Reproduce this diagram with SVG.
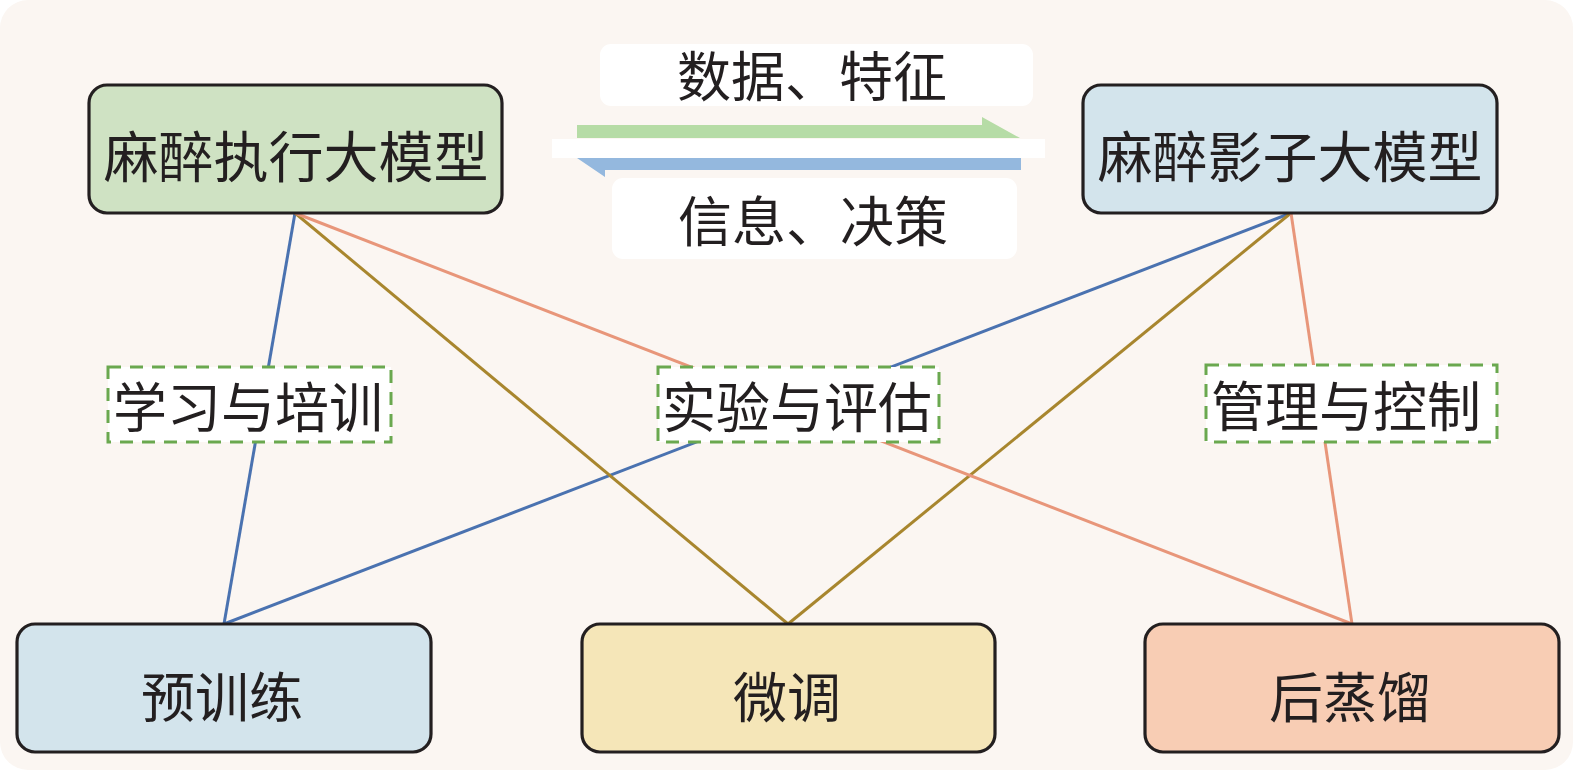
<svg xmlns="http://www.w3.org/2000/svg" width="1575" height="773" viewBox="0 0 1575 773">
<style>
.node rect{stroke:#231f20;stroke-width:3.2}
.t{font-family:"Noto Sans CJK SC","Noto Sans",sans-serif;fill:#231f20;text-anchor:middle;dominant-baseline:central}
.lbl rect{fill:#ffffff;stroke:#6aa84f;stroke-width:3;stroke-dasharray:13 9}
.conn line{stroke-width:3;fill:none}
.blue{stroke:#4a72b0}.gold{stroke:#a8862e}.orange{stroke:#e8967a}
</style>
<rect x="0" y="0" width="1575" height="773" fill="#ffffff"/>
<rect x="0" y="0" width="1573" height="770" rx="28" fill="#fbf6f2"/>
<g id="connectors" class="conn">
<line class="blue" x1="295" y1="213" x2="224" y2="624"/>
<line class="blue" x1="1291" y1="213" x2="224" y2="624"/>
<line class="gold" x1="295" y1="213" x2="788" y2="624"/>
<line class="gold" x1="1291" y1="213" x2="788" y2="624"/>
<line class="orange" x1="295" y1="213" x2="1352" y2="624"/>
<line class="orange" x1="1291" y1="213" x2="1352" y2="624"/>
</g>
<g id="flow">
<rect x="600" y="44" width="433" height="62" rx="11" fill="#ffffff"/>
<text class="t" x="812" y="73" font-size="54">数据、特征</text>
<polygon points="577,125 982,125 982,117 1020,138 577,138" fill="#b6dca6"/>
<rect x="552" y="139" width="493" height="19" fill="#ffffff"/>
<polygon points="577,158 1021,158 1021,170 605,170 605,177" fill="#94b8de"/>
<rect x="612" y="178" width="405" height="81" rx="11" fill="#ffffff"/>
<text class="t" x="813" y="218" font-size="54">信息、决策</text>
</g>
<g id="n-exec" class="node"><rect x="89" y="85" width="413" height="128" rx="18" fill="#cfe2c3"/><text class="t" x="296" y="153" font-size="55">麻醉执行大模型</text></g>
<g id="n-shadow" class="node"><rect x="1083" y="85" width="414" height="128" rx="18" fill="#d3e4ec"/><text class="t" x="1290" y="153" font-size="55">麻醉影子大模型</text></g>
<g id="n-pretrain" class="node"><rect x="17" y="624" width="414" height="128" rx="18" fill="#d3e4ec"/><text class="t" x="222" y="694" font-size="54">预训练</text></g>
<g id="n-finetune" class="node"><rect x="582" y="624" width="413" height="128" rx="18" fill="#f5e6b8"/><text class="t" x="787" y="694" font-size="54">微调</text></g>
<g id="n-distill" class="node"><rect x="1145" y="624" width="414" height="128" rx="18" fill="#f8cdb4"/><text class="t" x="1350" y="694" font-size="54">后蒸馏</text></g>
<g id="l-learn" class="lbl"><rect x="108" y="367" width="283" height="75"/><text class="t" x="248" y="404" font-size="54">学习与培训</text></g>
<g id="l-exp" class="lbl"><rect x="658" y="367" width="281" height="75"/><text class="t" x="797" y="404" font-size="54">实验与评估</text></g>
<g id="l-manage" class="lbl"><rect x="1206" y="365" width="291" height="77"/><text class="t" x="1346" y="403" font-size="54">管理与控制</text></g>
</svg>
